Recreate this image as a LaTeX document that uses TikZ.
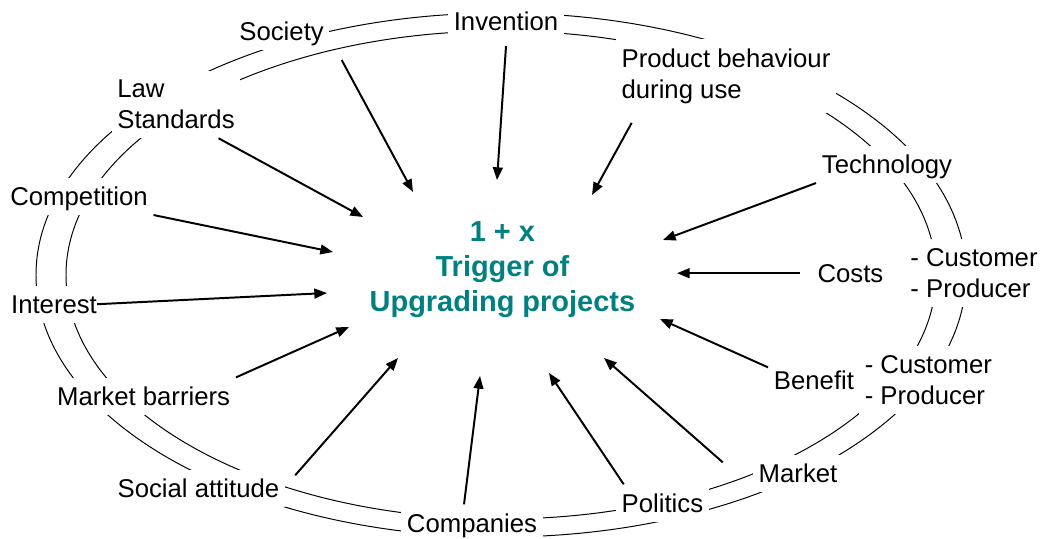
\documentclass[tikz,border=0pt]{standalone}
\usepackage{fontspec}
\setmainfont{Liberation Sans}
\usepackage{xcolor}
\usepackage{tikz}
\usetikzlibrary{arrows.meta}

\definecolor{trigteal}{RGB}{0,128,128}

\begin{document}
\begin{tikzpicture}[
  lbl/.style={fill=white, inner xsep=4pt, inner ysep=3pt, text height=16.5pt, text depth=3.9pt, font=\fontsize{18.3}{22}\selectfont},
  lbltwo/.style={fill=white, inner xsep=4pt, inner ysep=6.5pt, align=left, font=\fontsize{18.3}{22}\selectfont},
  ring/.style={line width=0.7pt},
  push/.style={line width=1.4pt, -{Triangle[length=9pt,width=7pt]}}
]
\useasboundingbox (0,0) rectangle (26.05,13.45);

\draw[ring] (12.525,6.575) ellipse (11.625 and 6.55);
\draw[ring] (12.525,6.575) ellipse (10.875 and 6.1);

\node[font=\fontsize{20.6}{24.9}\selectfont\bfseries, text=trigteal, align=center] (trig) at (12.56,6.71) {1 + x\\Trigger of\\Upgrading projects};

\node[lbl] (inv) at (12.65,12.92) {Invention};
\node[lbl] (soc) at (7.04,12.67) {Society};
\node[lbltwo] (law) at (4.40,10.84) {Law\\Standards};
\node[lbltwo] (prod) at (18.15,11.55) {Product behaviour\\during use};
\node[lbl] (tech) at (22.175,9.345) {Technology};
\node[lbl] (comp) at (1.975,8.545) {Competition};
\node[lbl] (costs) at (21.26,6.62) {Costs};
\node[lbltwo] (costcp) at (24.35,6.62) {- Customer\\- Producer};
\node[lbl] (inter) at (1.35,5.845) {Interest};
\node[lbl] (bene) at (20.35,3.945) {Benefit};
\node[lbltwo] (benecp) at (23.21,3.945) {- Customer\\- Producer};
\node[lbl] (mbar) at (3.59,3.545) {Market barriers};
\node[lbl] (soca) at (4.96,1.245) {Social attitude};
\node[lbl] (comps) at (11.8,0.37) {Companies};
\node[lbl] (pol) at (16.56,0.87) {Politics};
\node[lbl] (mkt) at (19.95,1.62) {Market};

\coordinate (invE) at (12.425,8.95);
\coordinate (socE) at (10.325,8.65);
\coordinate (lawE) at (9.075,8.025);
\coordinate (compE) at (8.325,7.15);
\coordinate (prodE) at (14.8,8.575);
\coordinate (techE) at (16.575,7.45);
\coordinate (interE) at (8.175,6.125);
\coordinate (mbarE) at (8.725,5.275);
\coordinate (socaE) at (9.95,4.5);
\coordinate (compsE) at (12.0,4.05);
\coordinate (costsE) at (16.925,6.62);
\coordinate (beneE) at (16.5,5.475);
\coordinate (mktE) at (15.1,4.5);
\coordinate (polE) at (13.725,4.125);

\draw[push] ([yshift=-0.15cm]inv.south) -- (invE);
\draw[push] ([shift={(0.3,-0.25)}]soc.south east) -- (socE);
\draw[push] ([xshift=-0.55cm]law.south east) -- (lawE);
\draw[push] (comp.south east) -- (compE);
\draw[push] ([shift={(0.4,-0.25)}]prod.south west) -- (prodE);
\draw[push] (tech.south west) -- (techE);
\draw[push] ([xshift=-0.14cm]inter.east) -- (interE);
\draw[push] (mbar.north east) -- (mbarE);
\draw[push] ([shift={(0.25,-0.15)}]soca.north east) -- (socaE);
\draw[push] ([xshift=-0.2cm]comps.north) -- (compsE);
\draw[push] ([xshift=-0.3cm]costs.west) -- (costsE);
\draw[push] ([yshift=-0.15cm]bene.north west) -- (beneE);
\draw[push] ([shift={(-0.75,-0.2)}]mkt.north west) -- (mktE);
\draw[push] ([xshift=0.2cm]pol.north west) -- (polE);

\end{tikzpicture}
\end{document}
